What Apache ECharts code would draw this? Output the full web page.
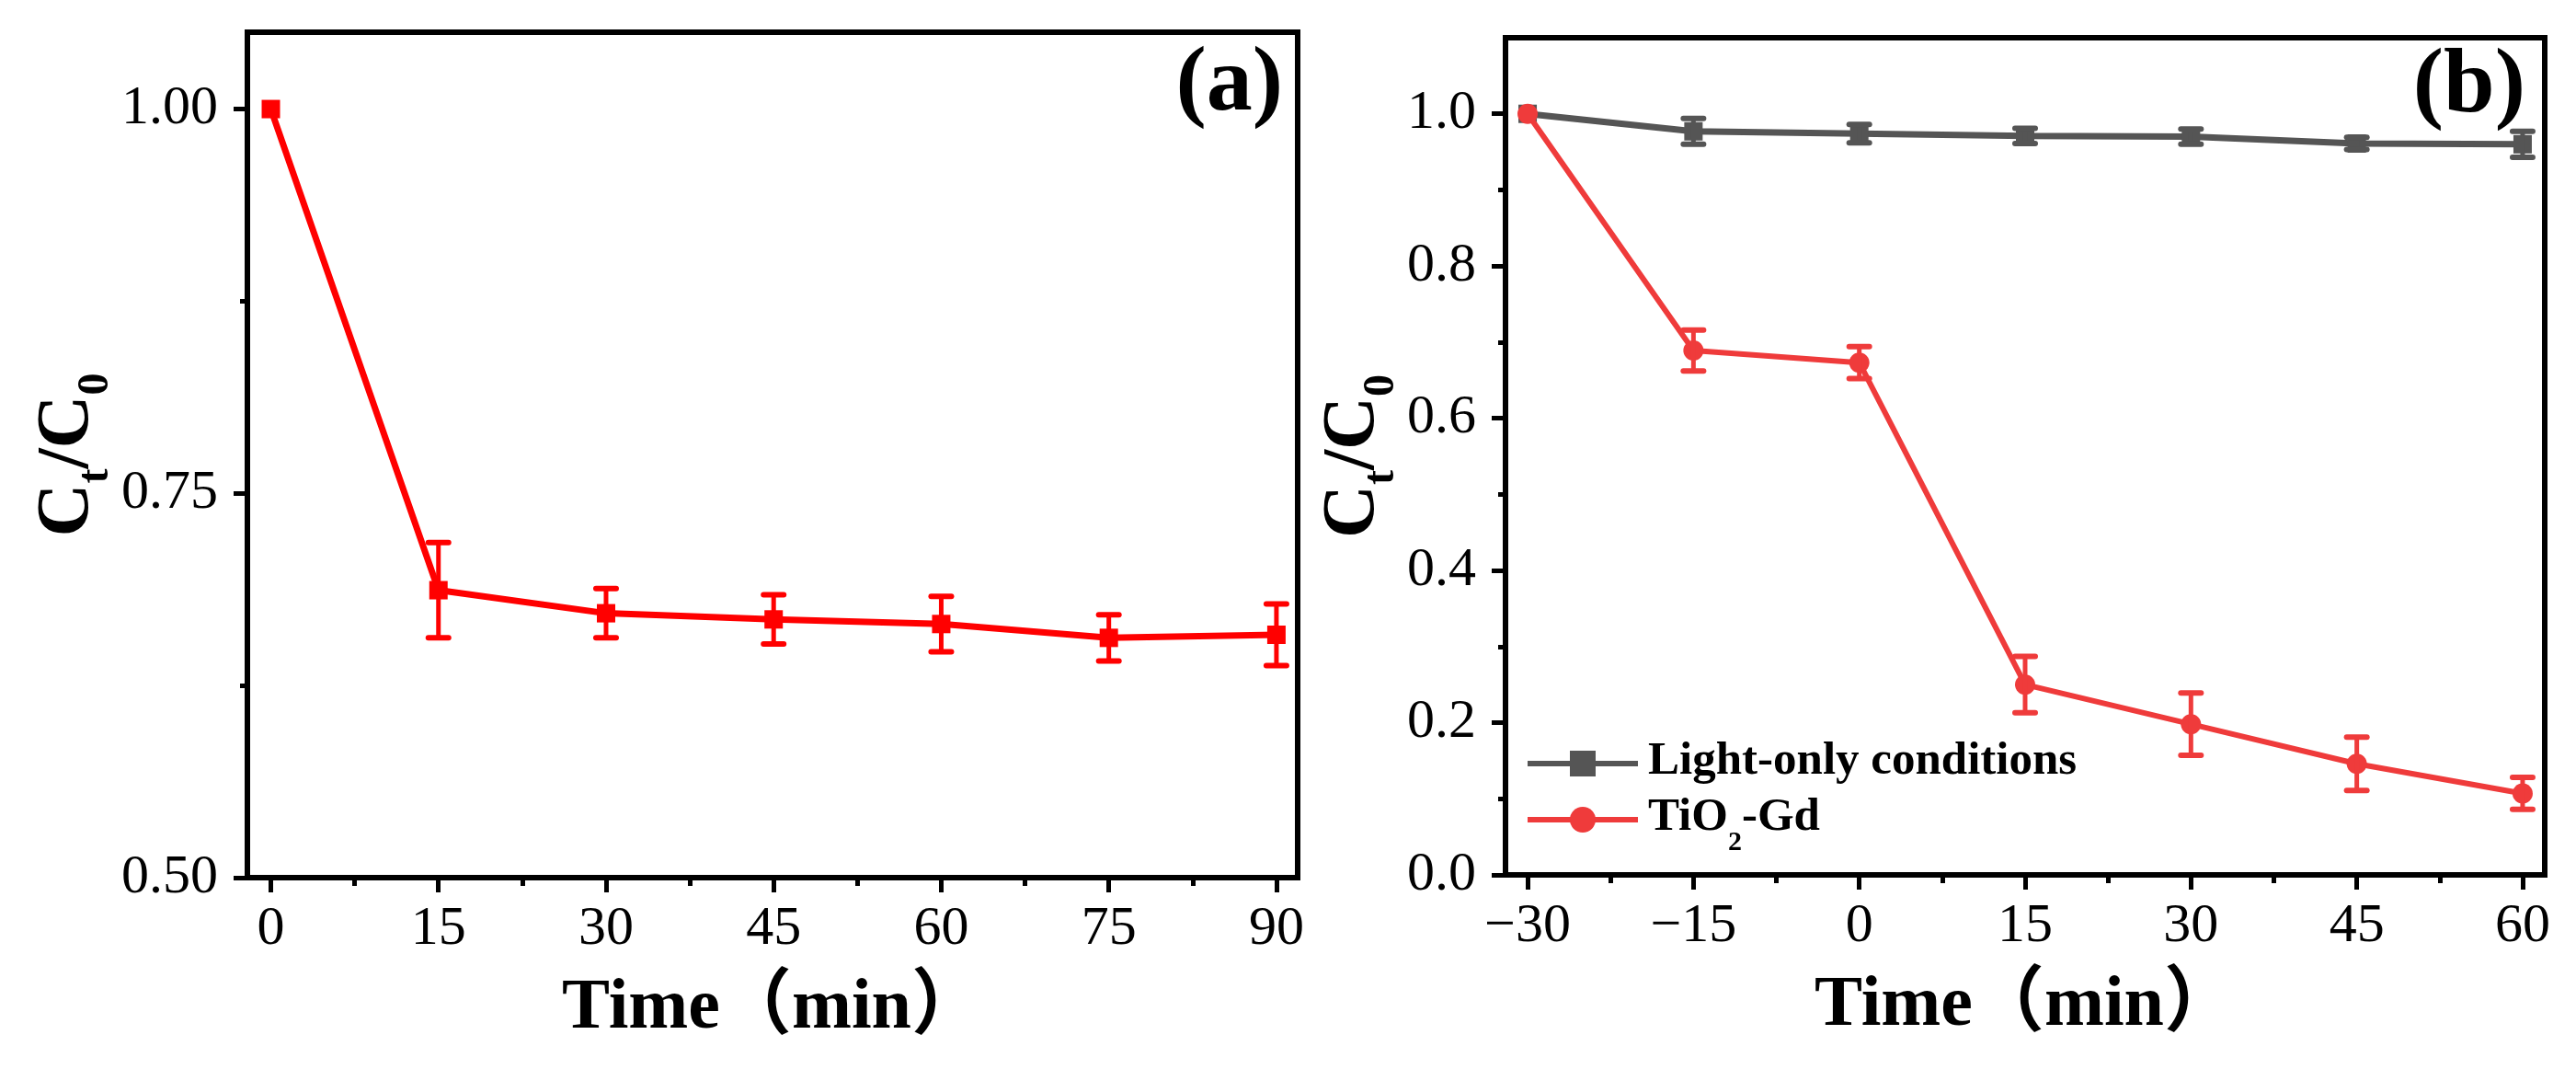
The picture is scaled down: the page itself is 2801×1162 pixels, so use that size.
<!DOCTYPE html>
<html>
<head>
<meta charset="utf-8">
<script src="https://cdn.jsdelivr.net/npm/echarts@6/dist/echarts.min.js"></script>
<style>
html,body{margin:0;padding:0;background:#fff;}
#chart{width:2801px;height:1162px;}
</style>
</head>
<body>
<div id="chart"></div>
<script>
// ---------- data ----------
const timeA = [0, 15, 30, 45, 60, 75, 90];
const valA  = [1.000, 0.687, 0.672, 0.668, 0.665, 0.656, 0.658];
const errA  = [0, 0.031, 0.016, 0.016, 0.018, 0.015, 0.020];

const timeB = [-30, -15, 0, 15, 30, 45, 60];
const valLight = [1.000, 0.977, 0.974, 0.971, 0.970, 0.961, 0.960];
const errLight = [0, 0.017, 0.012, 0.010, 0.010, 0.008, 0.017];
const valTiGd  = [1.000, 0.689, 0.673, 0.250, 0.198, 0.146, 0.107];
const errTiGd  = [0, 0.027, 0.021, 0.037, 0.041, 0.035, 0.021];

const xTicksA = [0, 15, 30, 45, 60, 75, 90];
const xMinorA = [7.5, 22.5, 37.5, 52.5, 67.5, 82.5];
const yTicksA = [0.50, 0.75, 1.00];
const yMinorA = [0.625, 0.875];

const xTicksB = [-30, -15, 0, 15, 30, 45, 60];
const xMinorB = [-22.5, -7.5, 7.5, 22.5, 37.5, 52.5];
const yTicksB = [0.0, 0.2, 0.4, 0.6, 0.8, 1.0];
const yMinorB = [0.1, 0.3, 0.5, 0.7, 0.9];

const seriesNames = ['Light-only conditions', 'TiO2-Gd'];

// ---------- styles ----------
const FONT = "'Liberation Serif', 'Times New Roman', 'Noto Sans CJK SC', serif";
const RED_A = '#ff0000';
const GRAY = '#555555';
const RED_B = '#ef3b3b';
const AXW = 6;

function zip(t, v) { return t.map((x, i) => [x, v[i]]); }
function zip3(t, v, e) { return t.map((x, i) => [x, v[i], e[i]]); }

function errRender(color) {
  return function (params, api) {
    const x = api.value(0), y = api.value(1), e = api.value(2);
    if (!e) return null;
    const top = api.coord([x, y + e]);
    const bot = api.coord([x, y - e]);
    const hw = 11;
    return {
      type: 'group',
      children: [
        {type: 'line', shape: {x1: top[0], y1: top[1], x2: bot[0], y2: bot[1]}, style: {stroke: color, lineWidth: 5}},
        {type: 'line', shape: {x1: top[0] - hw, y1: top[1], x2: top[0] + hw, y2: top[1]}, style: {stroke: color, lineWidth: 6, lineCap: 'round'}},
        {type: 'line', shape: {x1: bot[0] - hw, y1: bot[1], x2: bot[0] + hw, y2: bot[1]}, style: {stroke: color, lineWidth: 6, lineCap: 'round'}}
      ]
    };
  };
}

const tickLabel = {fontFamily: FONT, fontSize: 60, color: '#000'};
const yNameRich = {
  c: {fontFamily: FONT, fontSize: 80, fontWeight: 'bold', color: '#000', lineHeight: 80, verticalAlign: 'top'},
  s: {fontFamily: FONT, fontSize: 48, fontWeight: 'bold', color: '#000', lineHeight: 48, verticalAlign: 'top', padding: [46, 0, 0, 0]}
};
const yNameText = '{c|C}{s|t}{c|/C}{s|0}';

function fmtX(v) { return v < 0 ? '\u2212' + Math.abs(v) : String(v); }

function majorX(grid, min, max, ticks) {
  return {
    type: 'value', gridIndex: grid, min: min, max: max, position: 'bottom',
    splitLine: {show: false},
    axisLine: {show: true, onZero: false, lineStyle: {color: '#000', width: AXW}},
    axisTick: {show: true, inside: false, length: 16, customValues: ticks, lineStyle: {color: '#000', width: 5}},
    axisLabel: {show: true, customValues: ticks, margin: 26, formatter: fmtX, ...tickLabel},
    name: 'Time\uff08min\uff09', nameLocation: 'middle', nameGap: 104,
    nameTextStyle: {fontFamily: FONT, fontSize: 78, fontWeight: 'bold', color: '#000'}
  };
}
function minorX(grid, min, max, ticks) {
  return {
    type: 'value', gridIndex: grid, min: min, max: max, position: 'bottom',
    splitLine: {show: false},
    axisLine: {show: false, onZero: false},
    axisTick: {show: true, inside: false, length: 9, customValues: ticks, lineStyle: {color: '#000', width: 5}},
    axisLabel: {show: false}
  };
}
function majorY(grid, min, max, ticks, dec, gap) {
  return {
    type: 'value', gridIndex: grid, min: min, max: max, position: 'left',
    splitLine: {show: false},
    axisLine: {show: true, onZero: false, lineStyle: {color: '#000', width: AXW}},
    axisTick: {show: true, inside: false, length: 15, customValues: ticks, lineStyle: {color: '#000', width: 5}},
    axisLabel: {show: true, customValues: ticks, margin: 32, formatter: v => v.toFixed(dec), ...tickLabel},
    name: yNameText, nameLocation: 'middle', nameGap: gap, nameRotate: 90,
    nameTextStyle: {rich: yNameRich}
  };
}
function minorY(grid, min, max, ticks) {
  return {
    type: 'value', gridIndex: grid, min: min, max: max, position: 'left',
    splitLine: {show: false},
    axisLine: {show: false, onZero: false},
    axisTick: {show: true, inside: false, length: 8, customValues: ticks, lineStyle: {color: '#000', width: 5}},
    axisLabel: {show: false}
  };
}

const chart = echarts.init(document.getElementById('chart'), null, {renderer: 'canvas'});
chart.setOption({
  backgroundColor: '#fff',
  animation: false,
  title: [
    {text: '(a)', right: 1401, top: 38, textStyle: {fontFamily: FONT, fontSize: 100, fontWeight: 'bold', color: '#000'}},
    {text: '(b)', right: 50, top: 40, textStyle: {fontFamily: FONT, fontSize: 100, fontWeight: 'bold', color: '#000'}}
  ],
  grid: [
    {left: 269, top: 35, width: 1142, height: 919, show: true, borderColor: '#000', borderWidth: AXW, backgroundColor: 'transparent'},
    {left: 1637, top: 41, width: 1130, height: 910, show: true, borderColor: '#000', borderWidth: AXW, backgroundColor: 'transparent'}
  ],
  xAxis: [
    majorX(0, -2.1, 91.9, xTicksA),
    minorX(0, -2.1, 91.9, xMinorA),
    majorX(1, -32.0, 62.0, xTicksB),
    minorX(1, -32.0, 62.0, xMinorB)
  ],
  yAxis: [
    majorY(0, 0.5, 1.05, yTicksA, 2, 150),
    minorY(0, 0.5, 1.05, yMinorA),
    majorY(1, 0, 1.1, yTicksB, 1, 120),
    minorY(1, 0, 1.1, yMinorB)
  ],
  legend: {
    left: 1653, top: 797, orient: 'vertical', itemWidth: 120, itemHeight: 35, itemGap: 0,
    data: seriesNames,
    lineStyle: {width: 6},
    formatter: function (n) { return n === 'TiO2-Gd' ? '{b|TiO}{s|2}{b|-Gd}' : '{b|' + n + '}'; },
    textStyle: {
      fontFamily: FONT, fontSize: 51, fontWeight: 'bold', color: '#000', padding: [0, 0, 0, 6],
      rich: {
        b: {fontFamily: FONT, fontSize: 51, fontWeight: 'bold', color: '#000', lineHeight: 56, verticalAlign: 'top', padding: [0, 0, 10, 0]},
        s: {fontFamily: FONT, fontSize: 30, fontWeight: 'bold', color: '#000', lineHeight: 28, verticalAlign: 'top', padding: [38, 0, 0, 0]}
      }
    }
  },
  series: [
    {
      type: 'line', name: 'a', xAxisIndex: 0, yAxisIndex: 0,
      data: zip(timeA, valA),
      symbol: 'rect', symbolSize: 20,
      lineStyle: {color: RED_A, width: 7}, itemStyle: {color: RED_A}, z: 3
    },
    {
      type: 'custom', xAxisIndex: 0, yAxisIndex: 0,
      data: zip3(timeA, valA, errA), encode: {x: 0, y: 1},
      renderItem: errRender(RED_A), z: 4
    },
    {
      type: 'line', name: seriesNames[0], xAxisIndex: 2, yAxisIndex: 2,
      data: zip(timeB, valLight),
      symbol: 'rect', symbolSize: 20,
      lineStyle: {color: GRAY, width: 7}, itemStyle: {color: GRAY}, z: 3
    },
    {
      type: 'custom', xAxisIndex: 2, yAxisIndex: 2,
      data: zip3(timeB, valLight, errLight), encode: {x: 0, y: 1},
      renderItem: errRender(GRAY), z: 4
    },
    {
      type: 'line', name: seriesNames[1], xAxisIndex: 2, yAxisIndex: 2,
      data: zip(timeB, valTiGd),
      symbol: 'circle', symbolSize: 22,
      lineStyle: {color: RED_B, width: 6}, itemStyle: {color: RED_B}, z: 5
    },
    {
      type: 'custom', xAxisIndex: 2, yAxisIndex: 2,
      data: zip3(timeB, valTiGd, errTiGd), encode: {x: 0, y: 1},
      renderItem: errRender(RED_B), z: 6
    }
  ]
});
</script>
</body>
</html>
